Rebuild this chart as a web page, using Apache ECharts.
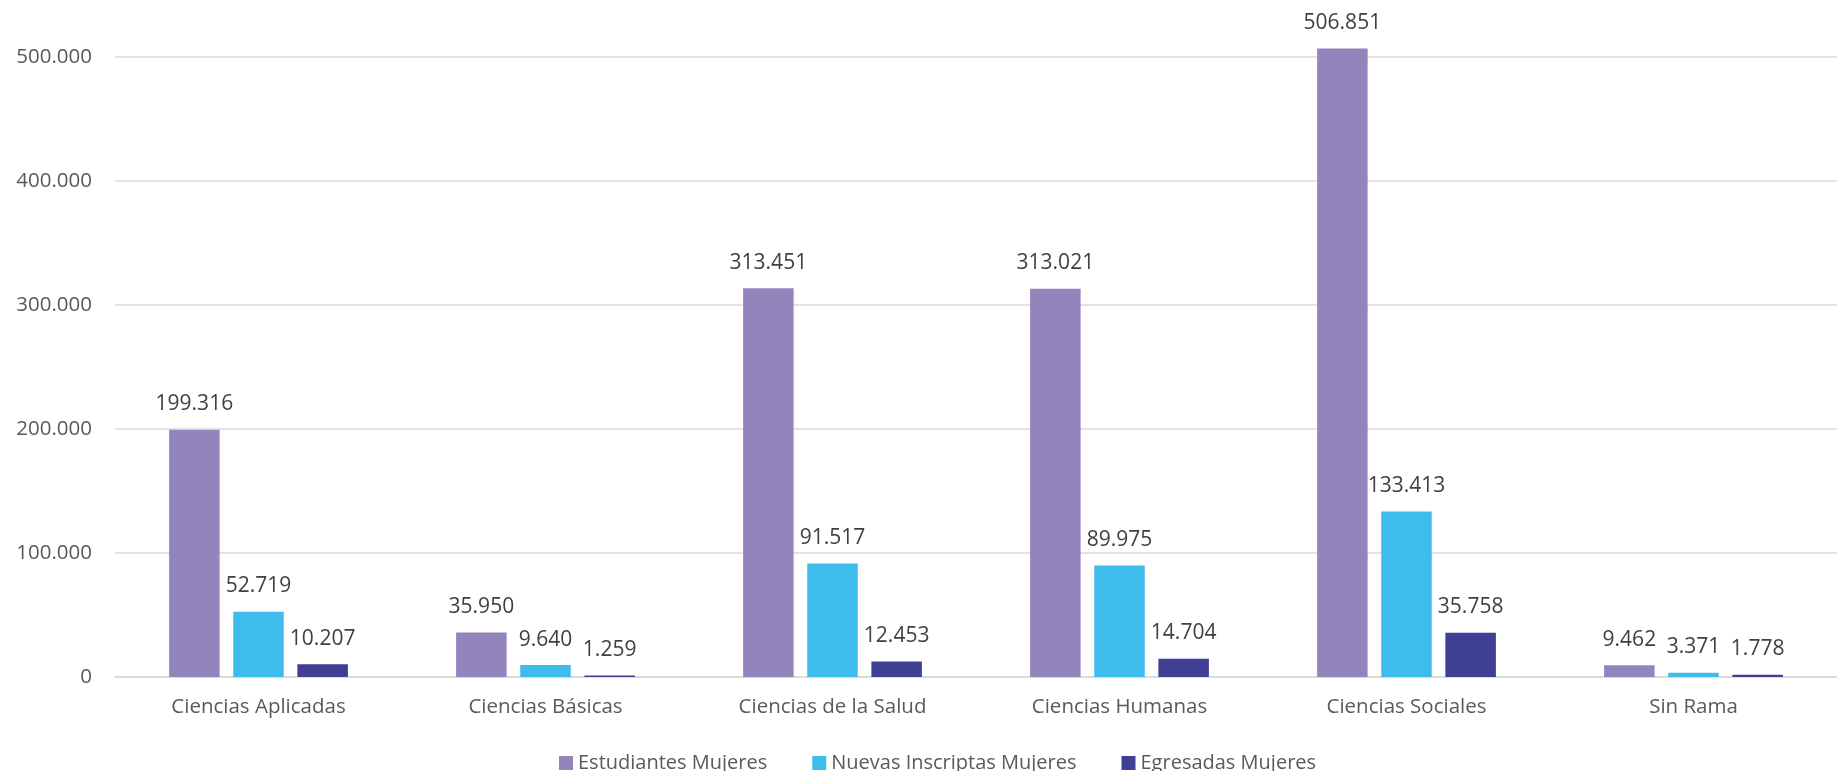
<!DOCTYPE html>
<html>
<head>
<meta charset="utf-8">
<script src="https://cdn.jsdelivr.net/npm/echarts@6/dist/echarts.min.js"></script>
<style>
html,body{margin:0;padding:0;background:#fff;}
#chart{width:1837px;height:771px;}
</style>
</head>
<body>
<div id="chart"></div>
<script>
const categories = ['Ciencias Aplicadas','Ciencias Básicas','Ciencias de la Salud','Ciencias Humanas','Ciencias Sociales','Sin Rama'];
const estudiantes = [199316, 35950, 313451, 313021, 506851, 9462];
const nuevas = [52719, 9640, 91517, 89975, 133413, 3371];
const egresadas = [10207, 1259, 12453, 14704, 35758, 1778];
const seriesNames = ['Estudiantes Mujeres','Nuevas Inscriptas Mujeres','Egresadas Mujeres'];
const yTicks = [0, 100000, 200000, 300000, 400000, 500000];

function fmt(v){ return String(v).replace(/\B(?=(\d{3})+(?!\d))/g, '.'); }
const FONT = '"Open Sans", sans-serif';
const colors = ['#9384BC', '#3EBCEC', '#3F3F93'];

function mkSeries(name, data, color){
  return {
    name: name, type: 'bar', data: data, clip: false,
    barWidth: 50.5, barGap: '27%',
    itemStyle: {color: color},
    label: {show: true, position: 'top', distance: 15, color: '#404040',
      fontFamily: FONT, fontSize: 21, formatter: p => fmt(p.value)}
  };
}

const chart = echarts.init(document.getElementById('chart'));
chart.setOption({
  animation: false,
  textStyle: {fontFamily: FONT},
  grid: {left: 115, top: 57, width: 1741, bottom: 94, containLabel: false},
  legend: {
    data: seriesNames, left: 554, top: 748, itemWidth: 14, itemHeight: 14,
    itemGap: 45, icon: 'rect',
    textStyle: {color: '#595959', fontSize: 20, fontFamily: FONT}
  },
  xAxis: {
    type: 'category', data: categories,
    axisLine: {lineStyle: {color: '#d9d9d9', width: 1.5}},
    axisTick: {show: false},
    axisLabel: {color: '#595959', fontSize: 20.5, fontFamily: FONT, margin: 20}
  },
  yAxis: {
    type: 'value', min: yTicks[0], max: yTicks[yTicks.length-1], interval: 100000,
    axisLine: {show: false}, axisTick: {show: false},
    splitLine: {lineStyle: {color: '#d9d9d9', width: 1.5}},
    axisLabel: {color: '#595959', fontSize: 20.5, fontFamily: FONT, margin: 23, formatter: v => fmt(v)}
  },
  series: [
    mkSeries(seriesNames[0], estudiantes, colors[0]),
    mkSeries(seriesNames[1], nuevas, colors[1]),
    mkSeries(seriesNames[2], egresadas, colors[2])
  ]
});
</script>
</body>
</html>
